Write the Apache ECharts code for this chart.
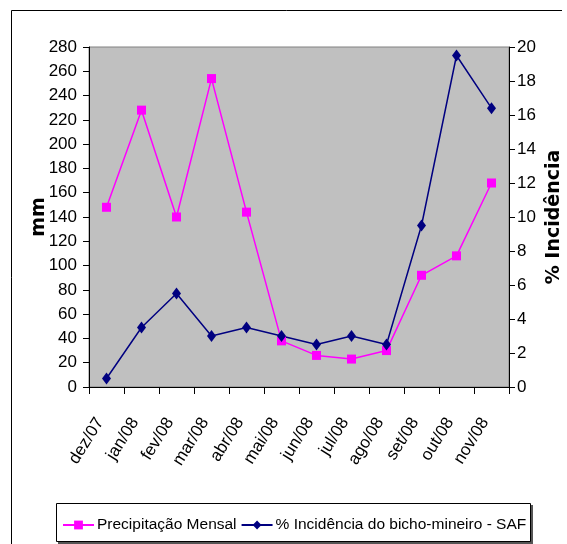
<!DOCTYPE html>
<html><head><meta charset="utf-8">
<script src="https://cdn.jsdelivr.net/npm/echarts@6/dist/echarts.min.js"></script>
<style>html,body{margin:0;padding:0;background:#fff}#c{width:567px;height:544px}</style>
</head><body><div id="c"></div>
<script>
var categories = ['dez/07','jan/08','fev/08','mar/08','abr/08','mai/08','jun/08','jul/08','ago/08','set/08','out/08','nov/08'];
var precipitacao = [148, 228, 140, 254, 144, 38, 26, 23, 30, 92, 108, 168];
var incidencia = [0.5, 3.5, 5.5, 3.0, 3.5, 3.0, 2.5, 3.0, 2.5, 9.5, 19.5, 16.4];
var seriesNames = ['Precipitação Mensal', '% Incidência do bicho-mineiro - SAF'];
var leftAxisName = 'mm', rightAxisName = '% Incidência';

var FONT = '"Liberation Sans", Arial, sans-serif';
var BOLD = '"DejaVu Sans", sans-serif';
var chart = echarts.init(document.getElementById('c'), null, {renderer:'canvas'});
chart.setOption({
  animation: false,
  backgroundColor: '#fff',
  graphic: [
    {type:'line', shape:{x1:11.5,y1:10.5,x2:562,y2:10.5}, style:{stroke:'#000',lineWidth:1}},
    {type:'line', shape:{x1:11.5,y1:10.5,x2:11.5,y2:544}, style:{stroke:'#000',lineWidth:1}},
    {type:'rect', shape:{x:58,y:505,width:475,height:39}, style:{fill:'#555'}, z:-1},
    {type:'rect', shape:{x:56.5,y:503.5,width:474,height:38}, style:{fill:'#fff',stroke:'#000',lineWidth:1}, z:0}
  ],
  grid: {left:89, right:58, top:47, bottom:157, outerBoundsMode:'none', containLabel:false, show:true, backgroundColor:'#C0C0C0', borderColor:'#808080', borderWidth:1},
  legend: {
    left: 62, top: 517, padding: 0, itemGap: 4, itemWidth: 31, itemHeight: 11,
    textStyle: {fontFamily: FONT, fontSize: 15.5, color:'#000', padding:[0,0,0,-2]},
    data: seriesNames, z: 5
  },
  xAxis: {
    type:'category', data: categories, boundaryGap: true,
    axisLine:{lineStyle:{color:'#000', width:1}},
    axisTick:{show:true, alignWithLabel:false, length:7, lineStyle:{color:'#000'}},
    axisLabel:{rotate:58, fontFamily:FONT, fontSize:17, color:'#000', margin:22, padding:[0,12,0,0], interval:0}
  },
  yAxis: [
    {type:'value', min:0, max:280, interval:20, name:leftAxisName, nameLocation:'middle', nameGap:40, nameRotate:90,
     nameMoveOverlap:false,
     nameTextStyle:{fontFamily:BOLD, fontWeight:'bold', fontSize:19, color:'#000'},
     axisLine:{show:true, lineStyle:{color:'#000'}}, axisTick:{show:true, length:6, lineStyle:{color:'#000'}},
     splitLine:{show:false},
     axisLabel:{fontFamily:FONT, fontSize:17, color:'#000', margin:12}},
    {type:'value', min:0, max:20, interval:2, name:rightAxisName, nameLocation:'middle', nameGap:36, nameRotate:90,
     nameMoveOverlap:false,
     nameTextStyle:{fontFamily:BOLD, fontWeight:'bold', fontSize:19, color:'#000'},
     axisLine:{show:true, lineStyle:{color:'#000'}}, axisTick:{show:true, length:6, lineStyle:{color:'#000'}},
     splitLine:{show:false},
     axisLabel:{fontFamily:FONT, fontSize:17, color:'#000', margin:8}}
  ],
  series: [
    {name:seriesNames[0], type:'line', yAxisIndex:0, data:precipitacao, symbol:'rect', symbolSize:9,
     lineStyle:{color:'#FF00FF', width:1.5}, itemStyle:{color:'#FF00FF'}},
    {name:seriesNames[1], type:'line', yAxisIndex:1, data:incidencia, symbol:'diamond', symbolSize:[9,12],
     lineStyle:{color:'#000080', width:1.5}, itemStyle:{color:'#000080'}}
  ]
});
</script></body></html>
